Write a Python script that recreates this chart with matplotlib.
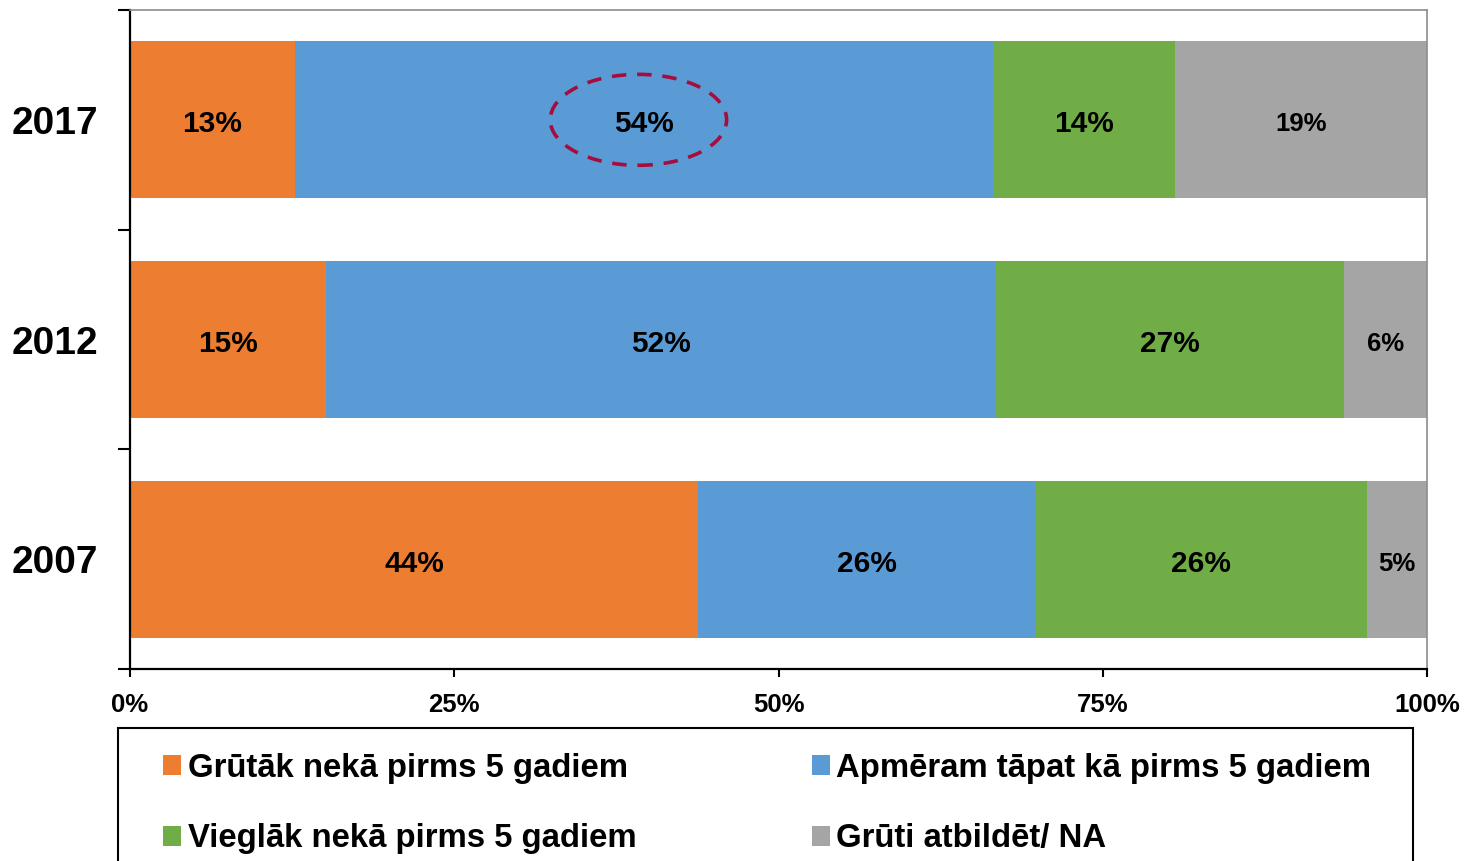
import matplotlib
matplotlib.use("Agg")
import matplotlib.pyplot as plt
from matplotlib.patches import Ellipse, Rectangle

plt.rcParams['font.family'] = ['Liberation Sans', 'DejaVu Sans']
plt.rcParams['font.weight'] = 'bold'

years = ['2007', '2012', '2017']
series_names = ['Grūtāk nekā pirms 5 gadiem', 'Apmēram tāpat kā pirms 5 gadiem',
                'Vieglāk nekā pirms 5 gadiem', 'Grūti atbildēt/ NA']
harder = [43.8, 15.1, 12.7]
same = [26.0, 51.7, 53.8]
easier = [25.6, 26.8, 14.1]
dont_know = [4.6, 6.4, 19.4]
colors = ['#ED7D31', '#5B9BD5', '#70AD47', '#A5A5A5']

W, H = 1464, 861
fig = plt.figure(figsize=(W / 100, H / 100), dpi=100)
ax = fig.add_axes([130 / W, 1 - 669 / H, 1297 / W, 659 / H])

ypos = list(range(len(years)))
left = [0.0] * len(years)
bars = []
for name, vals, col in zip(series_names, [harder, same, easier, dont_know], colors):
    b = ax.barh(ypos, vals, left=left, height=0.715, color=col, label=name)
    bars.append(b)
    fs = 18.5 if col == '#A5A5A5' else 21.5
    for y, v, l in zip(ypos, vals, left):
        ax.text(l + v / 2, y - 0.02, '%.0f%%' % v, ha='center', va='center',
                fontsize=fs, fontweight='bold', color='black')
    left = [a + b_ for a, b_ in zip(left, vals)]

ax.set_xlim(0, 100)
ax.set_ylim(-0.5, 2.5)

# highlight 2017 "same" value
ax.add_patch(Ellipse((39.2, 2.0), 13.6, 0.414, fill=False, edgecolor='#A50D3E',
                     linewidth=2.6, linestyle=(0, (4, 3))))

ax.set_xticks([0, 25, 50, 75, 100])
ax.set_xticklabels(['0%', '25%', '50%', '75%', '100%'], fontsize=18.5, fontweight='bold')
ax.set_yticks([-0.5, 0.5, 1.5, 2.5])
ax.set_yticklabels([])
ax.set_yticks(ypos, minor=True)
ax.set_yticklabels(years, minor=True, fontsize=28, fontweight='bold')
ax.tick_params(axis='y', which='minor', length=0, pad=23)
ax.tick_params(axis='y', which='major', length=9, width=1.5, direction='out')
ax.tick_params(axis='x', length=6, width=1.5, direction='out', pad=11)

ax.spines['left'].set_linewidth(1.6)
ax.spines['bottom'].set_linewidth(1.6)
ax.spines['top'].set_color('#8C8C8C')
ax.spines['right'].set_color('#8C8C8C')
ax.spines['top'].set_linewidth(1.2)
ax.spines['right'].set_linewidth(1.2)

# legend frame
fig.patches.append(Rectangle((118 / W, -0.05), (1413 - 118) / W, 1 - 728 / H + 0.05,
                             transform=fig.transFigure, fill=False,
                             edgecolor='black', linewidth=1.5))

order = [0, 2, 1, 3]
fig.legend([bars[i] for i in order], [series_names[i] for i in order],
           loc='upper left', bbox_to_anchor=(163 / W, 1 - 753 / H), ncol=2,
           frameon=False, borderpad=0, borderaxespad=0,
           handlelength=0.55, handleheight=0.55, handletextpad=0.2,
           columnspacing=5.33, labelspacing=1.2,
           prop={'weight': 'bold', 'size': 23.7})

fig.savefig('out.png', dpi=100)
